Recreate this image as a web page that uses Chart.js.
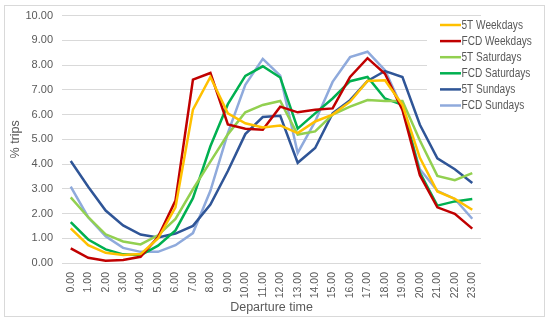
<!DOCTYPE html>
<html>
<head>
<meta charset="utf-8">
<script src="https://cdn.jsdelivr.net/npm/chart.js@4.4.0/dist/chart.umd.min.js"></script>
<style>
  body { margin: 0; background: #fff; }
  canvas { display: block; }
</style>
</head>
<body>
<canvas id="trips-chart" width="550" height="324"></canvas>
<script>
var hours = ['0.00','1.00','2.00','3.00','4.00','5.00','6.00','7.00','8.00','9.00','10.00','11.00',
             '12.00','13.00','14.00','15.00','16.00','17.00','18.00','19.00','20.00','21.00','22.00','23.00'];

var seriesNames = ['5T Weekdays', 'FCD Weekdays', '5T Saturdays', 'FCD Saturdays', '5T Sundays', 'FCD Sundays'];

var fiveTWeekdays  = [1.40,0.72,0.41,0.32,0.36,0.99,2.25,6.20,7.52,6.05,5.65,5.48,5.56,5.25,5.72,6.00,6.52,7.36,7.39,6.39,4.25,2.89,2.59,2.15];
var fcdWeekdays    = [0.59,0.21,0.09,0.12,0.25,1.05,2.52,7.41,7.68,5.60,5.43,5.39,6.32,6.09,6.19,6.25,7.52,8.28,7.65,6.19,3.55,2.25,1.99,1.39];
var fiveTSaturdays = [2.65,1.85,1.16,0.87,0.75,1.12,1.78,2.98,4.10,5.20,6.09,6.39,6.55,5.19,5.32,6.00,6.32,6.59,6.55,6.55,4.95,3.52,3.35,3.63];
var fcdSaturdays   = [1.65,0.95,0.55,0.35,0.31,0.70,1.32,2.62,4.72,6.42,7.56,7.95,7.50,5.43,6.05,6.65,7.35,7.52,6.65,6.39,3.65,2.32,2.49,2.59];
var fiveTSundays   = [4.12,3.08,2.12,1.52,1.15,1.03,1.19,1.50,2.36,3.72,5.21,5.90,5.95,4.05,4.65,6.05,6.58,7.36,7.76,7.52,5.59,4.23,3.79,3.23];
var fcdSundays     = [3.09,1.85,1.08,0.61,0.45,0.45,0.72,1.21,2.92,5.25,7.20,8.25,7.57,4.45,5.72,7.32,8.32,8.54,7.79,6.25,3.79,2.92,2.59,1.79];

var colors = ['#FFC000', '#C00000', '#92D050', '#00B050', '#2F5597', '#8FAADC'];
var allSeries = [fiveTWeekdays, fcdWeekdays, fiveTSaturdays, fcdSaturdays, fiveTSundays, fcdSundays];

var textColor = '#595959';
var fontFamily = "'Liberation Sans', Arial, sans-serif";

// white background + light frame round the whole chart
var framePlugin = {
    id: 'frame',
    beforeDraw: function(chart) {
        var ctx = chart.ctx;
        ctx.save();
        ctx.fillStyle = '#fff';
        ctx.fillRect(0, 0, chart.width, chart.height);
        ctx.strokeStyle = '#d9d9d9';
        ctx.lineWidth = 1;
        ctx.strokeRect(4.5, 5.5, 540, 311);
        ctx.restore();
    }
};

// legend sits inside the plot on the right, over the grid, like Excel does it
// (text squeezed a bit since Calibri is narrower than what we have)
var legendPlugin = {
    id: 'boxLegend',
    afterDatasetsDraw: function(chart) {
        var ctx = chart.ctx;
        var x0 = 440, y0 = 25, step = 16.1;
        ctx.save();
        ctx.fillStyle = '#fff';
        ctx.fillRect(427, 16, 115, 98);
        ctx.font = '12px ' + fontFamily;
        ctx.textBaseline = 'middle';
        chart.data.datasets.forEach(function(ds, i) {
            var y = y0 + i * step;
            ctx.strokeStyle = ds.borderColor;
            ctx.lineWidth = 2.5;
            ctx.beginPath();
            ctx.moveTo(x0, y);
            ctx.lineTo(x0 + 21, y);
            ctx.stroke();
            ctx.fillStyle = textColor;
            var w = ctx.measureText(ds.label).width;
            ctx.fillText(ds.label, x0 + 21.5, y + 0.5, w * 0.84);
        });
        ctx.restore();
    }
};

var datasets = seriesNames.map(function(name, i) {
    return {
        label: name,
        data: allSeries[i],
        borderColor: colors[i],
        backgroundColor: colors[i],
        borderWidth: 2.5,
        pointRadius: 0,
        tension: 0,
        fill: false
    };
});

var ctx = document.getElementById('trips-chart').getContext('2d');
var tripsChart = new Chart(ctx, {
    type: 'line',
    data: { labels: hours, datasets: datasets },
    plugins: [framePlugin, legendPlugin],
    options: {
        responsive: false,
        animation: false,
        layout: { padding: { left: 8, top: 1, right: 69, bottom: 9 } },
        plugins: {
            legend: { display: false },
            tooltip: { enabled: false }
        },
        scales: {
            x: {
                offset: true,
                grid: { display: false, drawTicks: false },
                border: { display: false },
                afterFit: function(scale) { scale.height = 52; },
                ticks: {
                    color: textColor,
                    font: { family: fontFamily, size: 10.5 },
                    autoSkip: false,
                    maxRotation: 90,
                    minRotation: 90,
                    padding: 9
                },
                title: {
                    display: true,
                    text: 'Departure time',
                    color: textColor,
                    font: { family: fontFamily, size: 12.5 },
                    padding: { top: 0, bottom: 0 }
                }
            },
            y: {
                min: 0,
                max: 10,
                grid: { color: '#d9d9d9', drawTicks: false },
                border: { display: false },
                afterFit: function(scale) { scale.width = 54; },
                ticks: {
                    stepSize: 1,
                    color: textColor,
                    font: { family: fontFamily, size: 11 },
                    padding: 9,
                    callback: function(value) { return value.toFixed(2); }
                },
                title: {
                    display: true,
                    text: '% trips',
                    color: textColor,
                    font: { family: fontFamily, size: 12.5 },
                    padding: { top: 0, bottom: 1 }
                }
            }
        }
    }
});
</script>
</body>
</html>
